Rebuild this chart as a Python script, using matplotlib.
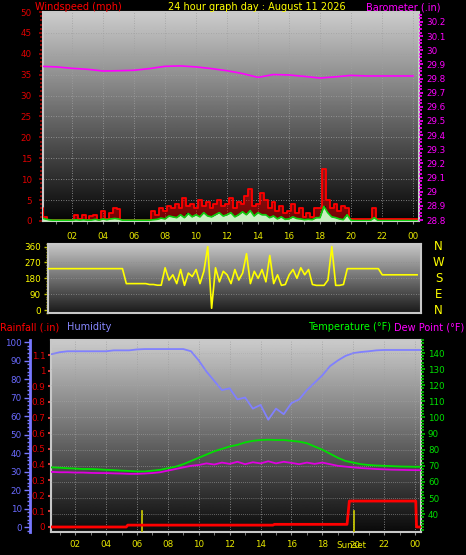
import matplotlib
matplotlib.use('Agg')
import matplotlib.pyplot as plt
import numpy as np
from matplotlib.ticker import MultipleLocator, FuncFormatter, FixedLocator

plt.rc('font', family='DejaVu Sans', size=6.3)

# ---- wind, 15 minute samples ----
wind_hours = np.arange(0, 24.5, 0.25)
gust = [3.0, 1.0, 0.3, 0.3, 0.3, 0.3, 0.3, 0.3,
        0.3, 1.5, 0.5, 1.5, 0.3, 1.2, 1.5, 0.3,
        2.5, 0.5, 2.0, 3.0, 2.8, 0.3, 0.3, 0.3,
        0.3, 0.3, 0.3, 0.3, 0.3, 2.5, 1.5, 3.0,
        2.5, 3.5, 3.0, 4.0, 3.0, 5.5, 3.5, 4.0,
        3.0, 5.0, 3.5, 4.5, 3.0, 4.0, 5.0, 3.5,
        4.0, 5.5, 3.0, 4.5, 4.0, 6.0, 7.7, 3.5,
        4.0, 6.7, 5.0, 3.0, 4.5, 2.5, 3.5, 2.0,
        2.5, 4.0, 2.0, 3.0, 1.0, 2.0, 1.0, 3.0,
        3.0, 12.5, 5.0, 3.0, 4.0, 2.5, 3.5, 3.0,
        0.5, 0.5, 0.5, 0.5, 0.5, 0.5, 3.0, 0.5,
        0.5, 0.5, 0.5, 0.5, 0.5, 0.5, 0.5, 0.5,
        0.5, 0.5]
avg_speed = [0.8, 0.5, 0.3, 0.2, 0.2, 0.2, 0.2, 0.2,
             0.2, 0.3, 0.2, 0.3, 0.2, 0.2, 0.4, 0.2,
             0.5, 0.3, 0.5, 0.6, 0.5, 0.2, 0.2, 0.2,
             0.2, 0.2, 0.2, 0.2, 0.2, 0.3, 0.4, 0.7,
             0.5, 1.2, 1.0, 0.8, 1.5, 0.8, 1.8, 1.0,
             1.5, 1.0, 2.0, 1.2, 1.0, 1.5, 2.0, 1.2,
             1.5, 2.0, 1.0, 1.5, 2.2, 1.5, 2.5, 1.2,
             2.0, 1.5, 1.5, 0.8, 1.2, 0.5, 1.0, 0.4,
             0.5, 1.0, 0.6, 0.5, 0.3, 0.4, 0.3, 0.8,
             0.8, 3.5, 2.0, 1.0, 0.8, 0.5, 0.3, 1.5,
             0.2, 0.1, 0.1, 0.1, 0.1, 0.1, 0.8, 0.1,
             0.1, 0.1, 0.1, 0.1, 0.1, 0.1, 0.1, 0.1,
             0.1, 0.1]
wind_dir = [235] * 20 + [
    235, 235, 150, 150,
    150, 150, 150, 150,
    145, 145, 141, 141,
    240, 170, 200, 150,
    230, 140, 210, 190,
    230, 150, 220, 360,
    10, 240, 160, 220,
    200, 150, 230, 170,
    210, 320, 150, 220,
    180, 230, 160, 310,
    150, 200, 140, 145,
    200, 230, 180, 240,
    200, 230, 145, 140,
    140, 140, 170, 360,
    140, 140, 145, 235,
    235, 235, 235, 235,
    235, 235, 235, 235,
    200, 200, 200, 200,
    200, 200, 200, 200,
    200, 200]

# ---- barometer, hourly ----
baro_hours = list(range(25))
baro = [29.886, 29.882, 29.872, 29.865, 29.853, 29.855, 29.858, 29.870,
        29.886, 29.889, 29.882, 29.870, 29.855, 29.835, 29.808, 29.828,
        29.825, 29.815, 29.803, 29.812, 29.822, 29.818, 29.818, 29.818,
        29.818]

# ---- temperature / dew point / humidity, 30 minute samples ----
th_hours = np.arange(0, 25, 0.5)
humidity = [93, 93.5, 94.5, 95, 95, 95, 95, 95, 95, 95.5,
            95.5, 95.5, 96, 96.2, 96.2, 96.2, 96.2, 96.2, 96.2, 95,
            90, 84, 79, 74, 75, 69, 70, 64, 66, 58,
            64, 61, 67, 69, 74, 78, 82, 87, 90, 92.5,
            94, 94.6, 95, 95.5, 95.7, 95.7, 95.7, 95.7, 95.7, 95.7]
temperature = [69, 69, 68.8, 68.5, 68.3, 68, 68, 67.8, 67.5, 67.3,
               67, 66.8, 66.5, 66.5, 67, 67.5, 68.5, 69.5, 71, 73,
               75, 77, 79, 80.5, 82, 83, 84.5, 85.5, 86, 86.2,
               86, 86, 85.5, 85, 84, 82, 80, 77.5, 75, 73,
               72, 71, 70.5, 70.2, 70, 69.8, 69.6, 69.5, 69.4, 69.4]
dew_point = [66.3, 66.2, 66, 66, 65.8, 65.8, 65.6, 65.5, 65.5, 65.3,
             65.2, 65, 65, 65.2, 65.5, 66, 67, 68, 69, 70,
             70.5, 71.5, 70.8, 72, 71.2, 72.5, 71, 72.2, 71.5, 72.8,
             71.5, 72.5, 71.8, 71, 72, 71.2, 72, 71, 70, 69.5,
             69, 68.6, 68.3, 68, 67.8, 67.6, 67.5, 67.4, 67.3, 67.3]

# ---- rainfall (cumulative) ----
rain_hours = [0.4, 5.3, 5.4, 14.8, 14.9, 19.6, 19.75, 24.05, 24.1, 24.5]
rain = [0, 0, 0.012, 0.012, 0.017, 0.017, 0.166, 0.166, 0.0, 0.0]

sunrise = 6.34
sunset = 20.04

hour_ticks = [2, 4, 6, 8, 10, 12, 14, 16, 18, 20, 22, 24]
hour_labels = ['02', '04', '06', '08', '10', '12', '14', '16', '18', '', '22', '00']
top_labels = ['02', '04', '06', '08', '10', '12', '14', '16', '18', '20', '22', '00']

W, H = 466, 555
fig = plt.figure(figsize=(W / 100, H / 100), dpi=100, facecolor='black')


def box(l, t, r, b):
    return [l / W, 1 - b / H, (r - l) / W, (b - t) / H]


def backdrop(ax, top, bottom):
    grad = np.linspace(bottom, top, 256).reshape(-1, 1)
    ax.imshow(grad, extent=[0, 1, 0, 1], transform=ax.transAxes, aspect='auto',
              cmap='gray', vmin=0, vmax=1, origin='lower', zorder=0)
    ax.set_facecolor('black')
    for s in ax.spines.values():
        s.set_color('#c8c8c8')
        s.set_linewidth(1.5)


def gfmt(v, pos):
    return f'{round(v, 2):g}'


YEL = '#ffff00'
RED = '#e00000'
MAG = '#ff00ff'
GRN = '#00e000'
BLU = '#7878ff'

# ================= top panel: wind + barometer =================
ax1 = fig.add_axes(box(43, 12, 419, 221))
backdrop(ax1, 0.8, 0.02)
ax1.set_xlim(0.13, 24.39)
ax1.set_ylim(0, 50)
ax1.fill_between(wind_hours, avg_speed, gust, step='mid', color='#ff0000', alpha=0.45, lw=0, zorder=2)
ax1.plot(wind_hours, gust, color='#ff0000', lw=1.3, drawstyle='steps-mid', zorder=3)
ax1.fill_between(wind_hours, 0, avg_speed, color='#c8f0c0', lw=0, zorder=3)
ax1.plot(wind_hours, avg_speed, color='#10d010', lw=1.2, zorder=4)
ax1.axhline(0.3, color='#ff0000', lw=1.2, zorder=2)
for y in [5, 10, 15, 20, 25, 30, 35, 40, 45]:
    ax1.axhline(y, color='#a0a0a0', lw=0.6, ls=(0, (1, 2)), zorder=1)
for x in hour_ticks:
    ax1.axvline(x, color='#a0a0a0', lw=0.6, ls=(0, (1, 2)), zorder=1)
ax1.yaxis.set_major_locator(MultipleLocator(5))
ax1.yaxis.set_minor_locator(MultipleLocator(1))
ax1.tick_params(axis='y', which='both', colors='#a00000', labelcolor=RED, length=3, width=1.2, pad=5)
ax1.tick_params(axis='y', which='minor', length=2)
ax1.xaxis.set_major_locator(FixedLocator(hour_ticks))
ax1.xaxis.set_minor_locator(MultipleLocator(1))
ax1.set_xticklabels(top_labels)
ax1.tick_params(axis='x', which='both', colors='#909090', labelcolor='#e8e800', length=2, pad=6)

axb = ax1.twinx()
axb.set_ylim(28.793, 30.27)
axb.plot(baro_hours, baro, color=MAG, lw=1.2, zorder=5)
axb.yaxis.set_major_locator(MultipleLocator(0.1))
axb.yaxis.set_minor_locator(MultipleLocator(0.025))
axb.yaxis.set_major_formatter(FuncFormatter(gfmt))
axb.tick_params(axis='y', which='both', colors=MAG, labelcolor=MAG, length=3, width=1.2, pad=2)
axb.tick_params(axis='y', which='minor', length=2)
for s in axb.spines.values():
    s.set_visible(False)

fig.text(35 / W, 1 - 7 / H, 'Windspeed (mph)', color='#ff0000', fontsize=7, va='center', ha='left')
fig.text(257 / W, 1 - 7 / H, '24 hour graph day : August 11 2026', color=YEL, fontsize=7, va='center', ha='center')
fig.text(440 / W, 1 - 7 / H, 'Barometer (.in)', color=MAG, fontsize=7, va='center', ha='right')

# ================= middle panel: wind direction =================
ax2 = fig.add_axes(box(48, 244, 421, 313))
backdrop(ax2, 0.78, 0.1)
ax2.set_xlim(0.45, 24.5)
ax2.set_ylim(-17, 375)
for y in [90, 180, 270]:
    ax2.axhline(y, color='#909090', lw=0.6, ls=(0, (1, 2)), zorder=1)
ax2.plot(wind_hours, wind_dir, color=YEL, lw=1.2, zorder=3)
ax2.set_xticks([])
ax2.set_yticks([0, 90, 180, 270, 360])
ax2.yaxis.set_minor_locator(MultipleLocator(15))
ax2.tick_params(axis='y', which='both', colors='#c0c000', labelcolor=YEL, length=3, width=1, pad=2)
ax2.tick_params(axis='y', which='minor', length=1.5)
for val, lab in zip([360, 270, 180, 90, 0], ['N', 'W', 'S', 'E', 'N']):
    ax2.text(1.047, val, lab, color=YEL, fontsize=8.5, va='center', ha='center',
             transform=ax2.get_yaxis_transform())

# ================= bottom panel: rain / humidity / temperature =================
ax3 = fig.add_axes(box(51, 340, 421, 532))
backdrop(ax3, 0.8, 0.04)
ax3.set_xlim(0.43, 24.39)
ax3.set_ylim(-0.032, 1.196)
for x in hour_ticks:
    ax3.axvline(x, color='#a0a0a0', lw=0.6, ls=(0, (1, 2)), zorder=1)
ax3.plot(rain_hours, rain, color='#ff0000', lw=2, zorder=4)
ax3.axvline(sunrise, ymin=0, ymax=0.11, color='#d0d000', lw=1.2, zorder=3)
ax3.axvline(sunset, ymin=0, ymax=0.11, color='#d0d000', lw=1.2, zorder=3)
ax3.yaxis.set_major_locator(FixedLocator([0, 0.1, 0.2, 0.3, 0.4, 0.5, 0.6, 0.7, 0.8, 0.9, 1.0, 1.1]))
ax3.yaxis.set_major_formatter(FuncFormatter(gfmt))
ax3.tick_params(axis='y', colors='#ff4040', labelcolor=RED, length=2, width=1.2, pad=2)
ax3.xaxis.set_major_locator(FixedLocator(hour_ticks))
ax3.xaxis.set_minor_locator(MultipleLocator(1))
ax3.set_xticklabels(hour_labels)
ax3.tick_params(axis='x', which='both', colors='#909090', labelcolor='#e8e800', length=2, pad=4)
# the sunset label is drawn over the 20 hour label, as in the source graph
ax3.text(sunset - 0.15, -0.045, 'Sunset', color='#e8e800', fontsize=6.3, ha='center', va='top',
         transform=ax3.get_xaxis_transform())
ax3.text(sunset + 0.05, -0.045, '20', color='#e8e800', fontsize=6.3, ha='center', va='top',
         transform=ax3.get_xaxis_transform())

axh = ax3.twinx()
axh.set_ylim(-2.7, 101.1)
axh.plot(th_hours, humidity, color='#8080ff', lw=1.3, zorder=4)
axh.yaxis.set_ticks_position('left')
axh.yaxis.set_label_position('left')
axh.spines['left'].set_position(('outward', 15))
axh.spines['left'].set_visible(True)
axh.spines['left'].set_color(BLU)
axh.spines['left'].set_linewidth(2)
for k in ['right', 'top', 'bottom']:
    axh.spines[k].set_visible(False)
axh.yaxis.set_major_locator(MultipleLocator(10))
axh.yaxis.set_minor_locator(MultipleLocator(2))
axh.tick_params(axis='y', which='both', colors=BLU, labelcolor='#6a6aff', length=4, width=1, pad=2)
axh.tick_params(axis='y', which='minor', length=2)

axt = ax3.twinx()
axt.set_ylim(28.9, 148.1)
for y in range(40, 141, 10):
    axt.axhline(y, color='#a8a8a8', lw=0.5, ls=(0, (1, 2)), zorder=1)
axt.plot(th_hours, temperature, color='#00e000', lw=1.3, zorder=5)
axt.plot(th_hours, dew_point, color='#e000e0', lw=1.3, zorder=5)
axt.set_yticks(list(range(40, 141, 10)))
axt.yaxis.set_minor_locator(MultipleLocator(2))
axt.tick_params(axis='y', which='both', colors='#00c000', labelcolor=GRN, length=3, width=1.2, pad=2)
axt.tick_params(axis='y', which='minor', length=2)
for s in axt.spines.values():
    s.set_visible(False)

fig.text(0 / W, 1 - 327 / H, 'Rainfall (.in)', color='#ff0000', fontsize=7, va='center', ha='left')
fig.text(67 / W, 1 - 327 / H, 'Humidity', color='#8888ff', fontsize=7, va='center', ha='left')
fig.text(391 / W, 1 - 327 / H, 'Temperature (°F)', color='#00ff00', fontsize=7, va='center', ha='right')
fig.text(394 / W, 1 - 327 / H, 'Dew Point (°F)', color=MAG, fontsize=7, va='center', ha='left')

fig.savefig('out.png', dpi=100, facecolor='black')
